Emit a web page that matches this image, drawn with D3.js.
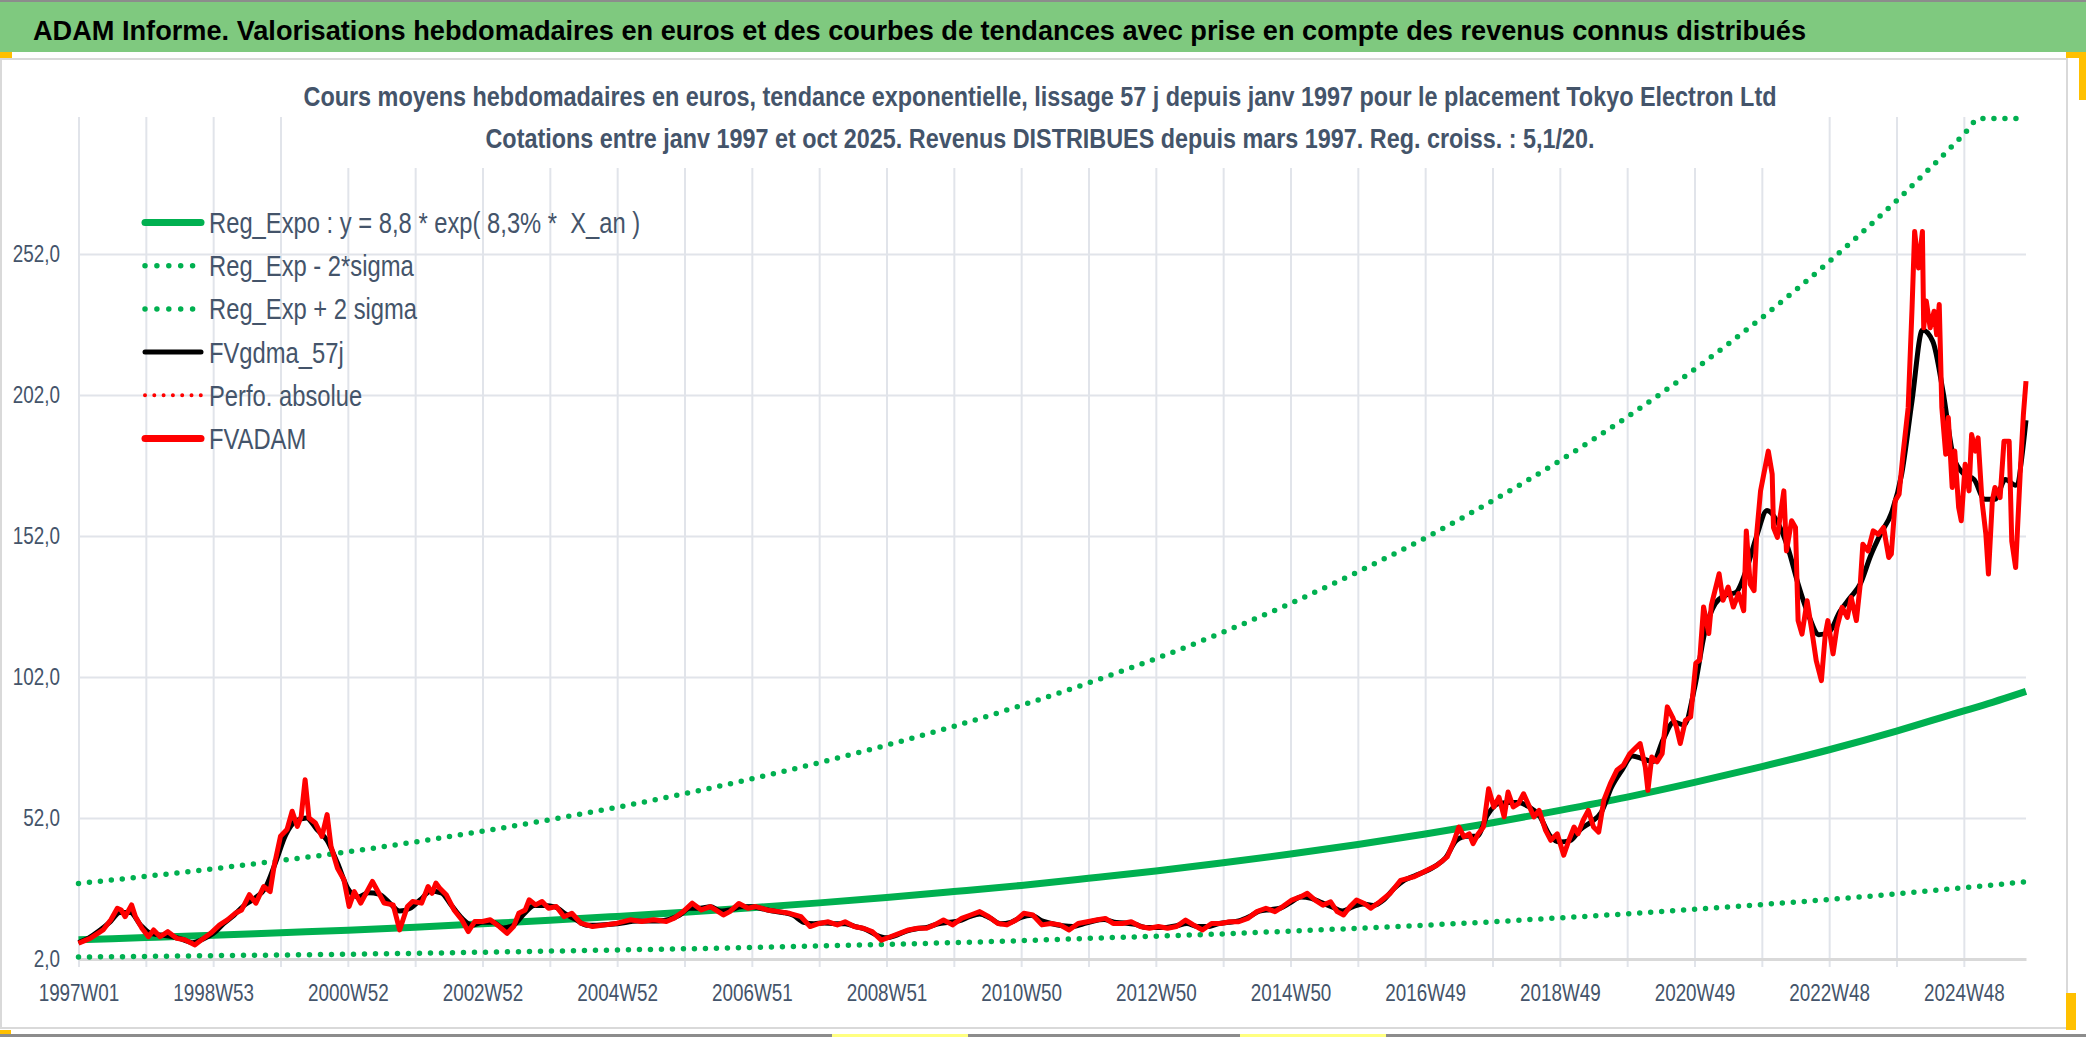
<!DOCTYPE html>
<html lang="fr">

<head>
  <meta charset="UTF-8">
  <title>Tokyo Electron Ltd - ADAM</title>
  <style>
    * {
      box-sizing: border-box;
    }

    body {
      margin: 0;
      background: #fff;
    }

    #main {
      width: 2086px;
      height: 1037px;
    }

    text {
      font-family: 'Liberation Sans', Arial, sans-serif;
    }
  </style>
</head>

<body>
  <div id="main"></div>
  <script src="https://d3js.org/d3.v7.min.js"></script>
  <script>
    // 1. data
    const bannerTitle = 'ADAM Informe. Valorisations hebdomadaires en euros et des courbes de tendances avec prise en compte des revenus connus distribués'
    const subTitles = [
      'Cours moyens hebdomadaires en euros, tendance exponentielle, lissage 57 j depuis janv 1997 pour le placement Tokyo Electron Ltd',
      'Cotations entre janv 1997 et oct 2025. Revenus DISTRIBUES depuis mars 1997. Reg. croiss. : 5,1/20.'
    ]
    const seriesNames = ['Reg_Expo : y = 8,8 * exp( 8,3% *  X_an )', 'Reg_Exp - 2*sigma', 'Reg_Exp + 2 sigma',
      'FVgdma_57j', 'Perfo. absolue', 'FVADAM']

    // weekly categories 1997W01 .. 2025W44 (index 0 .. 1504), one label every 104 weeks
    const weekCount = 1505
    const weekLabels = ['1997W01', '1998W53', '2000W52', '2002W52', '2004W52', '2006W51', '2008W51', '2010W50',
      '2012W50', '2014W50', '2016W49', '2018W49', '2020W49', '2022W48', '2024W48']
    const yTicks = [2, 52, 102, 152, 202, 252]

    // trend curves, read once a year
    const trendWeeks = [0, 52, 104, 156, 208, 260, 312, 364, 416, 468, 520, 572, 624, 676, 728, 780, 832, 884, 936,
      988, 1040, 1092, 1144, 1196, 1248, 1300, 1352, 1404, 1456, 1468, 1504]
    const regExpo = [8.8, 9.6, 10.4, 11.3, 12.2, 13.3, 14.5, 15.7, 17.1, 18.6, 20.2, 21.9, 23.8, 25.9, 28.1, 30.6,
      33.2, 36.1, 39.2, 42.6, 46.3, 50.3, 54.7, 59.4, 64.6, 70.2, 76.2, 82.8, 90.0, 91.6, 96.9]
    const regMinus2Sigma = [2.7, 2.9, 3.2, 3.4, 3.7, 4.0, 4.4, 4.8, 5.2, 5.6, 6.1, 6.6, 7.2, 7.8, 8.5, 9.3, 10.1,
      10.9, 11.9, 12.9, 14.0, 15.2, 16.6, 18.0, 19.6, 21.3, 23.1, 25.1, 27.3, 27.8, 29.4]
    const regPlus2Sigma = [28.8, 31.3, 34.0, 36.9, 40.0, 43.5, 47.3, 51.4, 55.8, 60.6, 65.9, 71.6, 77.8, 84.5, 91.9,
      99.9, 108.5, 117.9, 128.1, 139.3, 151.3, 164.5, 178.7, 194.2, 211.1, 229.4, 249.3, 270.9, 294.4, 300, 300]

    // FVADAM [week index, value]
    const fvadam = [
      [0, 7.6], [9, 9.3], [19, 12.3], [25, 15.9], [30, 20.0], [33, 19.4], [36, 17.0], [41, 21.2], [44, 17.0],
      [49, 12.9], [54, 9.9], [58, 12.3], [63, 9.9], [69, 11.7], [76, 9.3], [82, 8.8], [90, 7.0], [95, 8.8],
      [102, 11.1], [109, 14.1], [115, 15.9], [121, 18.2], [126, 19.4], [132, 24.8], [137, 21.8], [143, 27.7],
      [148, 25.9], [151, 34.8], [156, 45.5], [161, 47.9], [165, 54.4], [169, 49.0], [172, 52.6], [175, 65.6],
      [178, 52.0], [183, 50.2], [188, 45.5], [192, 53.2], [195, 42.0], [200, 34.2], [205, 30.1], [209, 20.6],
      [213, 25.9], [218, 21.8], [222, 25.3], [227, 29.5], [232, 25.3], [236, 21.8], [243, 21.2], [248, 12.3],
      [254, 20.6], [258, 22.4], [265, 21.8], [270, 27.7], [273, 25.3], [276, 28.9], [279, 27.1], [284, 24.8],
      [290, 19.4], [296, 15.9], [301, 11.7], [306, 15.3], [312, 15.3], [318, 15.9], [325, 13.5], [331, 11.1],
      [336, 13.5], [340, 18.2], [345, 19.4], [348, 23.0], [353, 21.2], [358, 22.4], [363, 20.0], [369, 20.6],
      [375, 17.0], [381, 18.2], [388, 14.7], [397, 13.5], [407, 14.1], [416, 14.7], [426, 15.9], [435, 15.3],
      [444, 15.9], [454, 15.3], [460, 16.5], [467, 18.8], [474, 21.8], [481, 19.4], [488, 20.6], [492, 19.4],
      [498, 17.6], [503, 18.8], [510, 21.7], [517, 20.0], [523, 20.6], [532, 19.4], [541, 18.8], [549, 18.2],
      [558, 17.0], [565, 13.5], [572, 14.6], [579, 15.2], [586, 14.1], [592, 15.2], [599, 13.5], [606, 12.9],
      [613, 11.7], [620, 8.7], [627, 9.9], [634, 11.1], [641, 12.3], [648, 12.9], [655, 12.9], [661, 14.1],
      [668, 15.8], [675, 14.1], [682, 16.4], [689, 17.6], [696, 18.8], [703, 17.0], [710, 14.6], [717, 14.1],
      [724, 15.8], [730, 18.2], [737, 17.6], [744, 14.1], [751, 14.6], [758, 14.1], [765, 12.3], [772, 14.6],
      [779, 15.2], [786, 15.8], [793, 16.4], [799, 14.6], [806, 14.6], [813, 15.2], [820, 13.5], [827, 12.9],
      [834, 13.5], [841, 12.9], [848, 13.5], [855, 15.8], [861, 14.1], [868, 12.3], [875, 14.6], [882, 14.6],
      [889, 15.2], [896, 15.2], [903, 16.4], [910, 18.8], [917, 20.0], [924, 18.8], [930, 20.6], [937, 22.9],
      [944, 24.1], [949, 25.3], [955, 22.9], [961, 21.1], [967, 22.3], [972, 18.8], [977, 17.6], [982, 20.6],
      [987, 22.9], [993, 21.7], [998, 20.0], [1005, 22.3], [1013, 25.3], [1021, 29.9], [1031, 31.1], [1041, 33.4],
      [1049, 35.2], [1057, 38.2], [1062, 43.5], [1066, 48.8], [1070, 45.3], [1074, 46.4], [1077, 42.9],
      [1081, 46.4], [1085, 48.8], [1089, 62.4], [1093, 55.9], [1097, 59.4], [1101, 52.4], [1104, 61.2],
      [1108, 55.9], [1112, 57.1], [1116, 60.6], [1120, 56.5], [1124, 52.4], [1128, 54.7], [1133, 47.6],
      [1137, 44.1], [1142, 46.4], [1147, 38.8], [1151, 44.1], [1155, 48.8], [1158, 46.4], [1162, 51.2],
      [1166, 54.7], [1170, 48.8], [1174, 47.0], [1178, 58.3], [1183, 64.2], [1188, 68.9], [1193, 70.7],
      [1198, 74.8], [1202, 76.6], [1206, 78.4], [1210, 70.1], [1212, 61.8], [1215, 73.6], [1219, 71.9],
      [1223, 74.8], [1227, 91.4], [1231, 87.8], [1234, 84.3], [1237, 78.4], [1241, 86.6], [1245, 87.8],
      [1249, 106.9], [1252, 108.0], [1255, 126.8], [1259, 117.4], [1261, 127.4], [1267, 138.6], [1270, 129.2],
      [1274, 133.9], [1278, 126.8], [1282, 131.6], [1286, 125.5], [1288, 153.8], [1291, 134.9], [1294, 132.6],
      [1296, 152.6], [1299, 168.0], [1301, 172.7], [1305, 182.1], [1308, 173.9], [1309, 155.0], [1312, 151.5],
      [1314, 158.5], [1317, 168.0], [1319, 146.7], [1323, 157.4], [1326, 155.0], [1328, 122.0], [1331, 117.2],
      [1335, 129.0], [1339, 117.2], [1342, 107.8], [1346, 100.7], [1349, 117.2], [1351, 122.0], [1355, 110.2],
      [1358, 119.6], [1362, 126.7], [1366, 123.1], [1369, 130.2], [1373, 122.0], [1376, 134.9], [1378, 149.1],
      [1382, 146.7], [1386, 153.8], [1390, 152.6], [1394, 155.0], [1398, 144.4], [1400, 145.6], [1403, 164.5],
      [1406, 166.8], [1409, 181.0], [1413, 197.5], [1416, 232.9], [1418, 260.0], [1421, 247.0], [1424, 260.0],
      [1425, 225.8], [1427, 235.3], [1430, 225.8], [1433, 231.7], [1435, 223.4], [1437, 234.1], [1439, 197.5],
      [1442, 181.0], [1444, 194.0], [1447, 169.2], [1449, 182.1], [1452, 162.1], [1454, 157.4], [1457, 177.4],
      [1460, 168.0], [1462, 188.0], [1465, 182.1], [1467, 186.8], [1470, 164.5], [1473, 152.6], [1475, 138.5],
      [1478, 164.5], [1480, 169.2], [1484, 165.6], [1487, 185.6], [1491, 185.6], [1493, 150.2], [1496, 140.8],
      [1500, 178.6], [1502, 195.1], [1504, 206.9]
    ]

    // FVgdma_57j (smoothed) [week index, value]
    const fvgdma = [
      [0, 7.8], [8, 9.5], [16, 12], [24, 15], [32, 18.5], [40, 18.5], [48, 14], [56, 11], [64, 10.5], [72, 10],
      [80, 9], [88, 7.8], [96, 9], [104, 11], [112, 14.5], [120, 17.5], [128, 21], [136, 23.5], [144, 27],
      [152, 36], [160, 46], [168, 51], [176, 52], [184, 48], [192, 44], [200, 36], [208, 27], [216, 24],
      [224, 25.5], [232, 25], [240, 22], [248, 19], [256, 20], [264, 23], [272, 26], [280, 25.5], [288, 21],
      [296, 16.5], [304, 14], [312, 15], [320, 15], [328, 13], [336, 14], [344, 18], [352, 21], [360, 21],
      [368, 20.5], [376, 18], [384, 16], [392, 14], [400, 14], [416, 14.5], [432, 15.5], [448, 15.5], [464, 17.5],
      [472, 20], [480, 20], [488, 20.5], [496, 19], [504, 19.5], [512, 20.5], [520, 20.5], [528, 19.8], [536, 19],
      [544, 18.5], [552, 17.5], [560, 15], [568, 14.5], [576, 14.8], [584, 14.5], [592, 14.5], [600, 13.5],
      [608, 12.5], [616, 10.5], [624, 9.5], [632, 10.5], [640, 12], [648, 12.8], [656, 13.3], [664, 14.5],
      [672, 15], [680, 15.5], [688, 17], [696, 18], [704, 16.5], [712, 14.5], [720, 15], [728, 16.8], [736, 17.5],
      [744, 15.5], [752, 14.5], [760, 13.8], [768, 13.5], [776, 14.5], [784, 15.5], [792, 16], [800, 15],
      [808, 14.8], [816, 14.3], [824, 13.2], [832, 13.2], [840, 13.2], [848, 13.8], [856, 14.6], [864, 13.5],
      [872, 13.5], [880, 14.5], [888, 15], [896, 15.5], [904, 17], [912, 19], [920, 19.5], [928, 20], [936, 22],
      [944, 24], [952, 23.5], [960, 22], [968, 20.5], [976, 19], [984, 20.5], [992, 21.5], [1000, 21], [1008, 23],
      [1016, 27], [1024, 30], [1032, 31.5], [1040, 33], [1048, 35], [1056, 38], [1064, 44], [1072, 45.5],
      [1080, 45.5], [1088, 53], [1096, 57], [1104, 57.5], [1112, 57.5], [1120, 56], [1128, 53], [1136, 46],
      [1144, 43.5], [1152, 44], [1160, 48], [1168, 50.5], [1176, 54], [1184, 63], [1192, 69], [1200, 74],
      [1208, 73], [1216, 72], [1224, 80], [1232, 86], [1240, 85], [1248, 98], [1256, 118], [1264, 128],
      [1272, 131], [1280, 132], [1288, 140], [1296, 152], [1304, 161], [1312, 157], [1320, 148], [1328, 135],
      [1336, 124], [1344, 117], [1352, 118], [1360, 125], [1368, 130], [1376, 135], [1384, 145], [1392, 153],
      [1400, 160], [1408, 174], [1416, 200], [1424, 225], [1432, 221], [1440, 203], [1448, 180], [1456, 174],
      [1464, 172], [1472, 165], [1480, 165], [1488, 172], [1496, 170], [1504, 193]
    ]

    // 2. container
    const [width, height] = [2086, 1037]
    const svg = d3.select('#main').append('svg')
      .attr('xmlns', 'http://www.w3.org/2000/svg')
      .attr('width', width)
      .attr('height', height)
      .attr('viewBox', `0 0 ${width} ${height}`)

    const textColor = '#44546a'
    const gridColor = '#e1e4ea'
    const narrow = 'scale(0.82, 1)'   // Liberation Sans squeezed like a narrow face
    const plot = { left: 78.5, right: 2026, top: 118.6, bottom: 959 }

    // banner
    svg.append('rect').attr('x', 0).attr('y', 0).attr('width', width).attr('height', 52).attr('fill', '#7fc97f')
    svg.append('rect').attr('x', 0).attr('y', 0).attr('width', width).attr('height', 2).attr('fill', '#8c8c8c')
    svg.append('text')
      .attr('x', 33).attr('y', 40)
      .attr('textLength', 1773).attr('lengthAdjust', 'spacingAndGlyphs')
      .style('font-size', '28px').style('font-weight', 'bold').attr('fill', '#000')
      .text(bannerTitle)

    // chart area border
    svg.append('rect').attr('x', 1).attr('y', 59).attr('width', 2066).attr('height', 969)
      .attr('fill', 'none').attr('stroke', '#d9d9d9').attr('stroke-width', 2)

    // 3. scales
    const xScale = d3.scaleLinear().domain([0, weekCount - 1]).range([plot.left, plot.right])
    const yScale = d3.scaleLinear().domain([2, 300]).range([plot.bottom, plot.top])

    // 4. grid
    const gridWeeks = d3.range(0, weekCount, 52)
    svg.append('g')
      .attr('transform', `translate(0, ${plot.bottom})`)
      .call(d3.axisBottom(xScale).tickValues(gridWeeks).tickSize(-(plot.bottom - plot.top) - 1.6).tickFormat(''))
      .call(g => g.select('.domain').remove())
      .call(g => g.selectAll('line').attr('stroke', gridColor).attr('stroke-width', 2))
    // small ticks under the axis
    svg.append('g')
      .attr('transform', `translate(0, ${plot.bottom})`)
      .call(d3.axisBottom(xScale).tickValues(gridWeeks).tickSize(8).tickFormat(''))
      .call(g => g.select('.domain').remove())
      .call(g => g.selectAll('line').attr('stroke', gridColor).attr('stroke-width', 2))

    svg.append('g')
      .attr('transform', `translate(${plot.left}, 0)`)
      .call(d3.axisLeft(yScale).tickValues(yTicks.slice(1)).tickSize(-(plot.right - plot.left)).tickFormat(''))
      .call(g => g.select('.domain').remove())
      .call(g => g.selectAll('line').attr('stroke', gridColor).attr('stroke-width', 2))

    // white box behind the chart title
    svg.append('rect').attr('x', 283).attr('y', 62).attr('width', 1507).attr('height', 106).attr('fill', '#fff')

    subTitles.forEach((t, i) => {
      svg.append('text')
        .attr('x', 1040).attr('y', 106 + i * 42)
        .attr('text-anchor', 'middle')
        .attr('textLength', i === 0 ? 1473 : 1109).attr('lengthAdjust', 'spacingAndGlyphs')
        .style('font-size', '27px').style('font-weight', 'bold').attr('fill', textColor)
        .text(t)
    })

    // 5. axes
    const xAxis = svg.append('g')
      .attr('transform', `translate(0, ${plot.bottom})`)
      .call(d3.axisBottom(xScale)
        .tickValues(weekLabels.map((d, i) => i * 104))
        .tickSize(0).tickPadding(26)
        .tickFormat((d, i) => weekLabels[i]))
      .style('font-size', '23px')
    xAxis.select('.domain').attr('stroke', '#d9d9d9').attr('stroke-width', 3)
    xAxis.selectAll('text').attr('fill', textColor).attr('transform', narrow)
      .style('font-family', "'Liberation Sans', Arial, sans-serif")

    const yAxis = svg.append('g')
      .attr('transform', `translate(60, 0)`)
      .call(d3.axisLeft(yScale).tickValues(yTicks).tickSize(0).tickPadding(0)
        .tickFormat(d => d3.format('.1f')(d).replace('.', ',')))
      .style('font-size', '23px')
    yAxis.select('.domain').remove()
    yAxis.selectAll('text').attr('fill', textColor).attr('transform', narrow)
      .style('font-family', "'Liberation Sans', Arial, sans-serif")

    // 6. series
    const trendLine = values => d3.line()
      .x((d, i) => xScale(trendWeeks[i]))
      .y(d => yScale(d))
      .curve(d3.curveMonotoneX)(values)
    const pairLine = d3.line().x(d => xScale(d[0])).y(d => yScale(d[1]))

    svg.append('path').attr('d', trendLine(regExpo))
      .attr('fill', 'none').attr('stroke', '#00b050').attr('stroke-width', 7)
    ;[regMinus2Sigma, regPlus2Sigma].forEach(v => {
      svg.append('path').attr('d', trendLine(v))
        .attr('fill', 'none').attr('stroke', '#00b050').attr('stroke-width', 5.5)
        .attr('stroke-linecap', 'round').attr('stroke-dasharray', '0 11')
    })
    svg.append('path').attr('d', pairLine.curve(d3.curveMonotoneX)(fvgdma))
      .attr('fill', 'none').attr('stroke', '#000').attr('stroke-width', 5)
    svg.append('path').attr('d', pairLine.curve(d3.curveLinear)(fvadam))
      .attr('fill', 'none').attr('stroke', '#ff0000').attr('stroke-width', 5)
      .attr('stroke-linejoin', 'round')

    // 7. legend
    const legendStyles = [
      { stroke: '#00b050', width: 7, dash: null },
      { stroke: '#00b050', width: 5.5, dash: '0 11.9' },
      { stroke: '#00b050', width: 5.5, dash: '0 11.9' },
      { stroke: '#000', width: 5, dash: null },
      { stroke: '#ff0000', width: 4, dash: '0 9.3' },
      { stroke: '#ff0000', width: 7, dash: null }
    ]
    const legend = svg.append('g')
    seriesNames.forEach((name, i) => {
      const y = 222.5 + i * 43.2
      const s = legendStyles[i]
      legend.append('line')
        .attr('x1', 145).attr('x2', 201).attr('y1', y).attr('y2', y)
        .attr('stroke', s.stroke).attr('stroke-width', s.width)
        .attr('stroke-linecap', 'round')
        .attr('stroke-dasharray', s.dash)
      legend.append('g')
        .attr('transform', `translate(209, ${y + 10.5})`)
        .append('text')
        .attr('transform', narrow)
        .style('font-size', '29px').style('white-space', 'pre')
        .attr('fill', textColor)
        .text(name)
    })

    // selection handles / frame marks of the original screenshot
    const marks = [
      [0, 52, 12, 6, '#ffc000'], [2066, 52, 20, 6, '#ffc000'], [2079, 52, 7, 48, '#ffc000'],
      [2066, 993, 10, 37, '#ffc000'], [0, 1030, 11, 7, '#ffc000'],
      [0, 1034, width, 3, '#8c8c8c'], [832, 1034, 136, 3, '#ffff80'], [1240, 1034, 146, 3, '#ffff80']
    ]
    marks.forEach(m => svg.append('rect').attr('x', m[0]).attr('y', m[1]).attr('width', m[2]).attr('height', m[3]).attr('fill', m[4]))
  </script>
</body>

</html>
